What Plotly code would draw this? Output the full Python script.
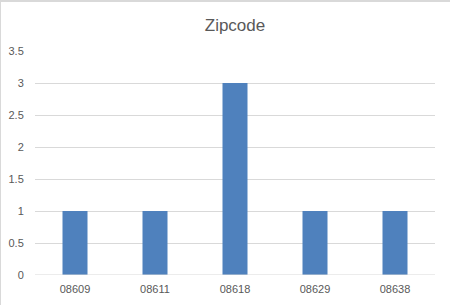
import plotly.graph_objects as go

categories = ["08609", "08611", "08618", "08629", "08638"]
counts = [1, 1, 3, 1, 1]
y_ticks = [0, 0.5, 1, 1.5, 2, 2.5, 3, 3.5]
y_tick_labels = ["0", "0.5", "1", "1.5", "2", "2.5", "3", "3.5"]

L, R, T, B = 35, 15, 51, 30
W, H = 450, 305
pw, ph = W - L - R, H - T - B

fig = go.Figure(go.Bar(x=categories, y=counts, marker=dict(color="#4F81BD", line=dict(width=0))))

txt = "#595959"
fig.update_layout(
    width=W, height=H,
    margin=dict(l=L, r=R, t=T, b=B, pad=0, autoexpand=False),
    paper_bgcolor="white", plot_bgcolor="white",
    bargap=0.6875,
    showlegend=False,
    font=dict(family="Liberation Sans, Arial, sans-serif", color=txt, size=11),
    title=dict(text="Zipcode", x=0.5, xref="paper", xanchor="center",
               y=1 - 25 / H, yref="container", yanchor="middle",
               font=dict(size=17, color=txt, family="Liberation Sans, Arial, sans-serif")),
    xaxis=dict(type="category", showgrid=False, zeroline=False, showline=False,
               automargin=False,
               ticks="outside", ticklen=4, tickcolor="rgba(0,0,0,0)",
               tickfont=dict(size=11, color=txt)),
    yaxis=dict(range=[0, 3.5], tickvals=y_ticks, ticktext=y_tick_labels,
               showgrid=True, gridcolor="#D9D9D9", gridwidth=1,
               zeroline=False, showline=False, automargin=False,
               ticks="outside", ticklen=8, tickcolor="rgba(0,0,0,0)",
               tickfont=dict(size=11, color=txt)),
    shapes=[
        dict(type="line", xref="paper", yref="paper",
             x0=(0 - L) / pw, x1=(W - L) / pw,
             y0=1 + (T - 1) / ph, y1=1 + (T - 1) / ph,
             line=dict(color="#D9D9D9", width=2)),
        dict(type="line", xref="paper", yref="paper",
             x0=(0.5 - L) / pw, x1=(0.5 - L) / pw,
             y0=1 + T / ph, y1=-B / ph,
             line=dict(color="#D9D9D9", width=1)),
        dict(type="line", xref="paper", yref="y",
             x0=0, x1=1, y0=0, y1=0,
             line=dict(color="#D9D9D9", width=1)),
    ],
)

fig.write_html("out.html")
